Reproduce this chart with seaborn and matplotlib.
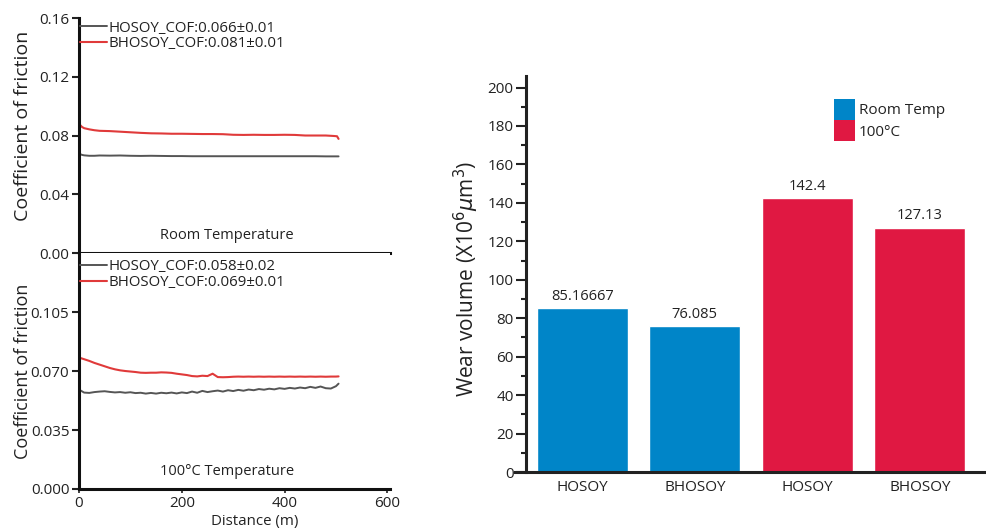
import matplotlib
matplotlib.use("Agg")
import matplotlib.pyplot as plt
import seaborn as sns
import pandas as pd
from matplotlib.ticker import MultipleLocator, FixedLocator
from matplotlib.patches import Patch

# ---------------- data ----------------
# Room temperature COF traces
rt_dist = [0, 1, 3, 6, 10, 20, 30, 40, 60, 80, 100, 120, 140, 160, 180, 200, 220, 240,
           260, 280, 300, 320, 340, 360, 380, 400, 420, 440, 460, 480, 495, 502, 505]
rt_bhosoy = [0.0935, 0.0880, 0.0868, 0.0858, 0.0850, 0.0842, 0.0836, 0.0832, 0.0830, 0.0826,
             0.0822, 0.0818, 0.0815, 0.0814, 0.0812, 0.0812, 0.0811, 0.0810, 0.0810, 0.0809,
             0.0805, 0.0804, 0.0805, 0.0804, 0.0804, 0.0805, 0.0804, 0.0800, 0.0800, 0.0800,
             0.0797, 0.0795, 0.0777]
rt_hosoy = [0.0678, 0.0676, 0.0672, 0.0668, 0.0665, 0.0662, 0.0662, 0.0664, 0.0663, 0.0664,
            0.0662, 0.0661, 0.0662, 0.0661, 0.0660, 0.0660, 0.0659, 0.0659, 0.0659, 0.0659,
            0.0659, 0.0659, 0.0659, 0.0659, 0.0659, 0.0659, 0.0659, 0.0659, 0.0659, 0.0658,
            0.0658, 0.0658, 0.0658]

# 100 C COF traces
ht_dist = [0, 10, 20, 30, 40, 50, 60, 70, 80, 90, 100, 110, 120, 130, 140, 150, 160, 170,
           180, 190, 200, 210, 220, 230, 240, 250, 260, 270, 280, 290, 300, 310, 320, 330,
           340, 350, 360, 370, 380, 390, 400, 410, 420, 430, 440, 450, 460, 470, 480, 490,
           500, 505]
ht_bhosoy = [0.0780, 0.0770, 0.0760, 0.0748, 0.0738, 0.0728, 0.0718, 0.0710, 0.0704, 0.0700,
             0.0697, 0.0694, 0.0690, 0.0689, 0.0690, 0.0690, 0.0692, 0.0691, 0.0689, 0.0684,
             0.0680, 0.0676, 0.0670, 0.0668, 0.0672, 0.0670, 0.0684, 0.0664, 0.0663, 0.0664,
             0.0666, 0.0667, 0.0666, 0.0667, 0.0666, 0.0667, 0.0666, 0.0667, 0.0666, 0.0667,
             0.0666, 0.0667, 0.0666, 0.0667, 0.0666, 0.0667, 0.0666, 0.0667, 0.0666, 0.0667,
             0.0667, 0.0668]
ht_hosoy = [0.0590, 0.0572, 0.0570, 0.0575, 0.0578, 0.0580, 0.0576, 0.0573, 0.0575, 0.0571,
            0.0574, 0.0569, 0.0571, 0.0566, 0.0570, 0.0566, 0.0571, 0.0568, 0.0572, 0.0567,
            0.0573, 0.0569, 0.0578, 0.0571, 0.0582, 0.0575, 0.0580, 0.0584, 0.0578, 0.0586,
            0.0581, 0.0588, 0.0583, 0.0590, 0.0586, 0.0593, 0.0589, 0.0595, 0.0591, 0.0598,
            0.0594, 0.0600, 0.0596, 0.0602, 0.0598, 0.0606, 0.0600, 0.0608, 0.0598, 0.0596,
            0.0610, 0.0625]

rt_labels = ["HOSOY_COF:0.066±0.01", "BHOSOY_COF:0.081±0.01"]
ht_labels = ["HOSOY_COF:0.058±0.02", "BHOSOY_COF:0.069±0.01"]

# Wear volume
samples = ["HOSOY", "BHOSOY", "HOSOY", "BHOSOY"]
conditions = ["Room Temp", "Room Temp", "100°C", "100°C"]
wear = [85.16667, 76.085, 142.4, 127.13]
wear_labels = ["85.16667", "76.085", "142.4", "127.13"]

# ---------------- style ----------------
sns.set_theme(style="ticks")
plt.rcParams["font.family"] = ["Open Sans", "DejaVu Sans"]
TXT = "#222222"
plt.rcParams["text.color"] = TXT
plt.rcParams["axes.labelcolor"] = TXT
plt.rcParams["xtick.color"] = TXT
plt.rcParams["ytick.color"] = TXT

GRAY = "#555555"
RED = "#e03a3a"
BLUE = "#0085c8"
CRIMSON = "#e01842"

fig = plt.figure(figsize=(9.86, 5.31), dpi=100)
ax1 = fig.add_axes([0.0801, 0.5235, 0.3154, 0.4426])
ax2 = fig.add_axes([0.0801, 0.0791, 0.3154, 0.4444])
ax3 = fig.add_axes([0.5335, 0.1111, 0.4564, 0.7458])

# ---------------- COF panels ----------------
def cof_panel(ax, dist, hos, bhos, labels, ylim, yticks, yfmt, note, leg_y):
    sns.lineplot(x=dist, y=hos, ax=ax, color=GRAY, lw=1.4, label=labels[0])
    sns.lineplot(x=dist, y=bhos, ax=ax, color=RED, lw=1.5, label=labels[1])
    ax.set_xlim(0, 605)
    ax.set_ylim(*ylim)
    ax.set_yticks(yticks)
    ax.set_yticklabels([yfmt.format(v) for v in yticks], fontsize=11)
    for s in ["top", "right"]:
        ax.spines[s].set_visible(False)
    for s in ["left", "bottom"]:
        ax.spines[s].set_linewidth(2.2)
        ax.spines[s].set_color("#111111")
    ax.tick_params(axis="y", direction="out", length=5, width=1.5, pad=2)
    ax.text(0.476, 0.075, note, transform=ax.transAxes, ha="center", va="center",
            fontsize=10.5)
    ax.legend(loc="upper left", bbox_to_anchor=(0.0, leg_y), frameon=False,
              fontsize=10.8, handlelength=1.75, handletextpad=0.1, labelspacing=0.05,
              borderaxespad=0.0, borderpad=0.1)

cof_panel(ax1, rt_dist, rt_hosoy, rt_bhosoy, rt_labels, (0, 0.16),
          [0, 0.04, 0.08, 0.12, 0.16], "{:.2f}", "Room Temperature", 0.995)
cof_panel(ax2, ht_dist, ht_hosoy, ht_bhosoy, ht_labels, (0, 0.14),
          [0, 0.035, 0.070, 0.105], "{:.3f}", "100°C Temperature", 0.979)

ax1.set_xticks([])
ax1.set_xlabel("")
ax2.set_xticks([0, 200, 400, 600])
ax2.set_xticklabels(["0", "200", "400", "600"], fontsize=11)
ax2.tick_params(axis="x", direction="out", length=3, width=1.2, pad=2)
ax2.set_xlabel("Distance (m)", fontsize=10.8)
ax2.xaxis.set_label_coords(0.566, -0.105)

ax1.set_ylabel("Coefficient of friction", fontsize=14)
ax1.yaxis.set_label_coords(-0.15, 0.54)
ax2.set_ylabel("Coefficient of friction", fontsize=13)
ax2.yaxis.set_label_coords(-0.15, 0.50)

# ---------------- Wear volume bars ----------------
df = pd.DataFrame({"key": [f"{i}" for i in range(len(samples))],
                   "sample": samples, "cond": conditions, "wear": wear})
sns.barplot(data=df, x="key", y="wear", hue="cond", ax=ax3,
            palette={"Room Temp": BLUE, "100°C": CRIMSON}, width=0.81,
            saturation=1, legend=False, dodge=False)
idx = 0
for cont in ax3.containers:
    n = len(cont)
    ax3.bar_label(cont, labels=wear_labels[idx:idx + n], padding=3, fontsize=10.5,
                  color=TXT)
    idx += n

ax3.set_xlim(-0.5, 3.5)
ax3.set_ylim(0, 206)
ax3.set_xticks(range(len(samples)))
ax3.set_xticklabels(samples, fontsize=11)
ax3.yaxis.set_major_locator(FixedLocator(list(range(0, 201, 20))))
ax3.yaxis.set_minor_locator(MultipleLocator(10))
ax3.set_yticklabels([str(v) for v in range(0, 201, 20)], fontsize=11)
ax3.tick_params(axis="y", which="major", direction="out", length=7, width=1.5, pad=2)
ax3.tick_params(axis="y", which="minor", direction="out", length=3.5, width=1.5)
ax3.tick_params(axis="x", length=0, pad=6)
for s in ["top", "right"]:
    ax3.spines[s].set_visible(False)
for s in ["left", "bottom"]:
    ax3.spines[s].set_linewidth(2.2)
    ax3.spines[s].set_color("#222222")
ax3.spines["bottom"].set_bounds(-0.598, 3.59)
ax3.set_xlabel("")
ax3.set_ylabel(r"Wear volume (X10$^6$$\mu$m$^3$)", fontsize=15)
ax3.yaxis.set_label_coords(-0.10, 0.487)

handles = [Patch(facecolor=BLUE, edgecolor="none"), Patch(facecolor=CRIMSON, edgecolor="none")]
ax3.legend(handles, ["Room Temp", "100°C"], loc="upper left",
           bbox_to_anchor=(0.671, 0.958), frameon=False, fontsize=11,
           handlelength=1.4, handleheight=1.73, handletextpad=0.2, labelspacing=0.05,
           borderaxespad=0.0)

fig.savefig("out.png", dpi=100)
